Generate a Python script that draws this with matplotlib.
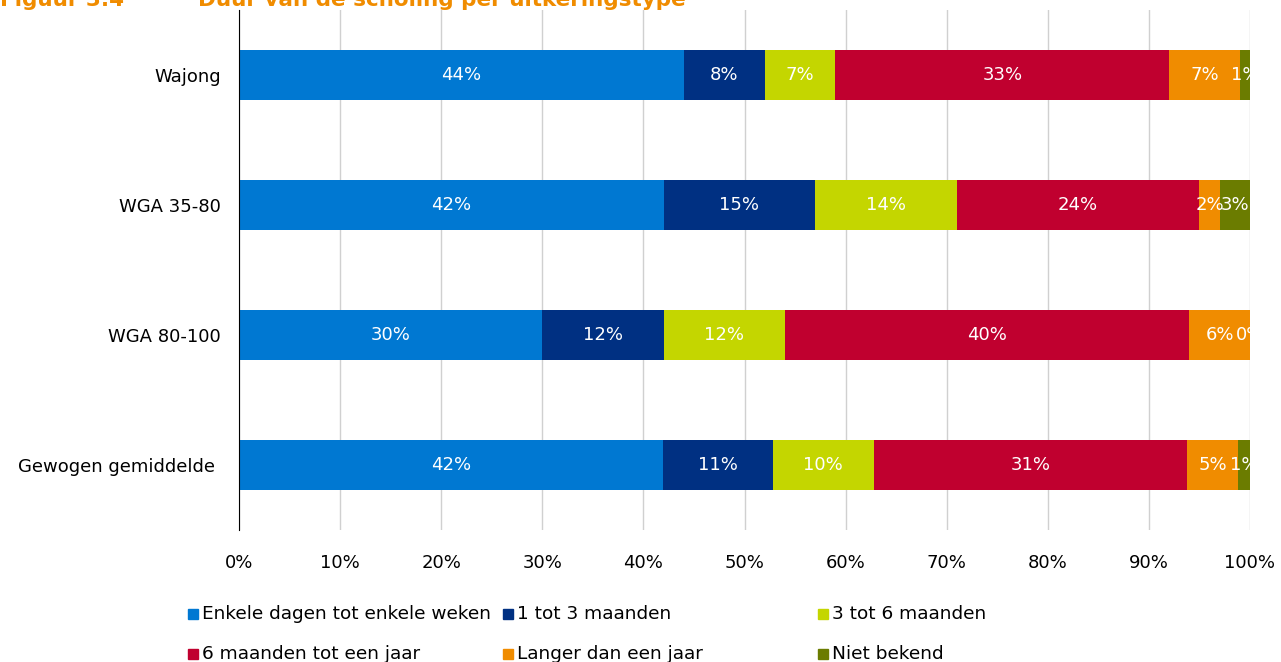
import numpy as np
import matplotlib
matplotlib.use("Agg")
import matplotlib.pyplot as plt
from matplotlib.patches import Rectangle

# data (aandelen in %)
categories = ["Wajong", "WGA 35-80", "WGA 80-100", "Gewogen gemiddelde "]
series = ["Enkele dagen tot enkele weken", "1 tot 3 maanden", "3 tot 6 maanden",
          "6 maanden tot een jaar", "Langer dan een jaar", "Niet bekend"]
enkele_dagen = [44, 42, 30, 41.9]
maand_1_3 = [8, 15, 12, 10.9]
maand_3_6 = [7, 14, 12, 10.0]
maand_6_jaar = [33, 24, 40, 31.0]
langer_jaar = [7, 2, 6, 5.0]
niet_bekend = [1, 3, 0, 1.2]
xticks = np.arange(0, 101, 10)

colors = ["#0078D2", "#003082", "#C4D600", "#C0002F", "#F08C00", "#6B7C00"]
values = [enkele_dagen, maand_1_3, maand_3_6, maand_6_jaar, langer_jaar, niet_bekend]

plt.rcParams['font.family'] = 'DejaVu Sans'
fig = plt.figure(figsize=(12.81, 6.62), dpi=100)
ax = fig.add_axes([239/1281, 1-530/662, 1011/1281, 520/662])

ypos = np.arange(len(categories))
left = np.zeros(len(categories))
for vals, col in zip(values, colors):
    vals = np.array(vals, dtype=float)
    ax.barh(ypos, vals, left=left, height=0.39, color=col, edgecolor="none", zorder=2)
    for y, l, v in zip(ypos, left, vals):
        ax.text(l + v/2, y, f"{v:.0f}%", ha="center", va="center",
                color="white", fontsize=13, clip_on=True, zorder=3)
    left += vals

ax.set_xlim(0, 100)
ax.set_ylim(len(categories) - 0.5, -0.5)
ax.set_yticks(ypos)
ax.set_yticklabels(categories, fontsize=13)
ax.set_xticks(xticks)
ax.set_xticklabels([f"{t}%" for t in xticks], fontsize=13)
ax.tick_params(axis="both", length=0)
ax.tick_params(axis="x", pad=17)
ax.tick_params(axis="y", pad=13)
ax.grid(axis="x", color="#D0D0D0", linewidth=1, zorder=0)
for s in ["top", "right", "bottom"]:
    ax.spines[s].set_visible(False)
ax.spines["left"].set_color("black")
ax.spines["left"].set_zorder(4)

# legenda, 3 kolommen
col_x = [188, 503, 818]
row_y = [614, 654]
for i, (name, col) in enumerate(zip(series, colors)):
    x = col_x[i % 3]
    y = row_y[i // 3]
    fig.patches.append(Rectangle((x/1281, 1-(y+5)/662), 10/1281, 10/662,
                                 transform=fig.transFigure, color=col))
    fig.text((x+14)/1281, 1-y/662, name, ha="left", va="center", fontsize=13.3)

# titel (deels buiten beeld, zoals in het origineel)
fig.text(0, 1-6/662, "Figuur 3.4", color="#F08C00", fontweight="bold",
         fontsize=15.5, va="baseline")
fig.text(198/1281, 1-6/662, "Duur van de scholing per uitkeringstype", color="#F08C00",
         fontweight="bold", fontsize=15.5, va="baseline")

fig.savefig("out.png", dpi=100)
